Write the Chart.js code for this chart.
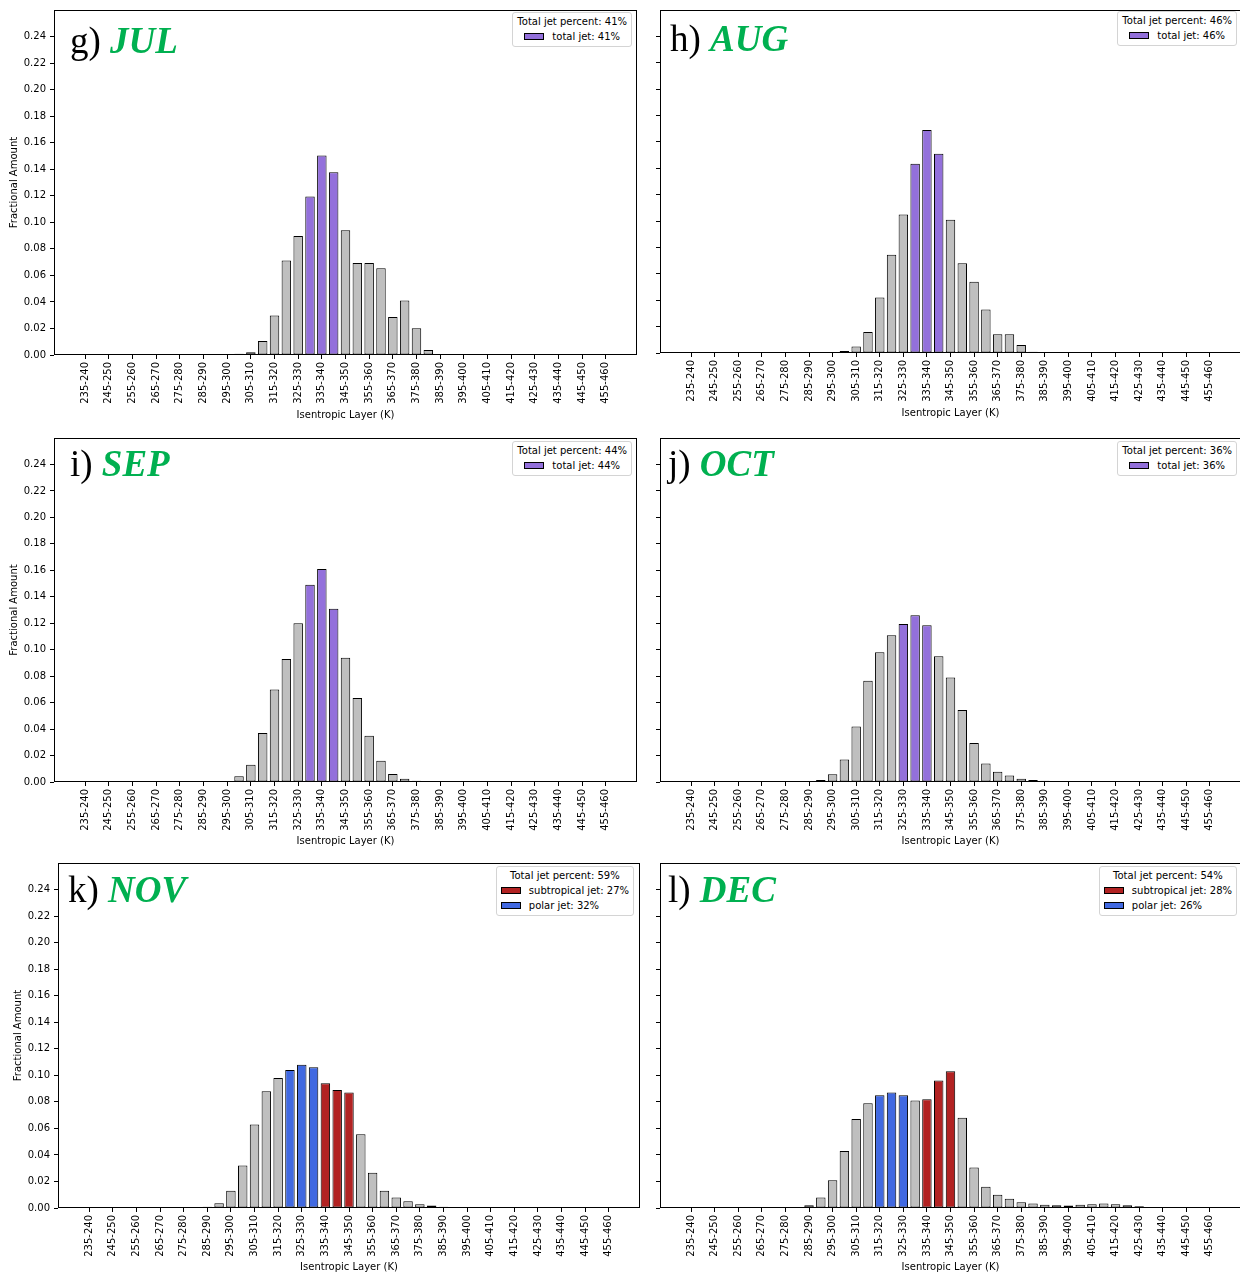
<!DOCTYPE html>
<html>
<head>
<meta charset="utf-8">
<title>Isentropic layer distribution, JUL - DEC</title>
<script src="https://cdn.jsdelivr.net/npm/chart.js@4.4.1/dist/chart.umd.min.js"></script>
<style>
html, body { margin: 0; padding: 0; background: #fff; width: 1240px; height: 1276px; overflow: hidden; }
.panel { position: absolute; }
.panel canvas { position: absolute; left: 0; top: 0; }
.tag { position: absolute; font-family: "Liberation Serif", "Times New Roman", serif; font-size: 37px; line-height: 37px; white-space: nowrap; color: #000; }
.tag b { color: #00b050; font-style: italic; font-weight: bold; }
.legend { position: absolute; background: #fff; border: 1px solid #d4d4d4; border-radius: 3px; font-family: "DejaVu Sans", sans-serif; font-size: 10px; color: #000; padding: 1px 4px 2px 4px; display: flex; flex-direction: column; align-items: center; }
.legend .ttl { line-height: 15px; white-space: nowrap; }
.legend .rows { display: flex; flex-direction: column; align-items: flex-start; }
.legend .row { line-height: 15px; white-space: nowrap; display: flex; align-items: center; }
.legend .sw { width: 20px; height: 7px; border: 1px solid #000; box-sizing: border-box; margin-right: 8px; }
</style>
</head>
<body>

<div class="panel" id="p-jul" style="left:0px;top:0px"><canvas id="jul" width="640" height="425"></canvas></div>
<div class="panel" id="p-aug" style="left:620px;top:0px"><canvas id="aug" width="622" height="425"></canvas></div>
<div class="panel" id="p-sep" style="left:0px;top:428px"><canvas id="sep" width="640" height="425"></canvas></div>
<div class="panel" id="p-oct" style="left:620px;top:428px"><canvas id="oct" width="622" height="425"></canvas></div>
<div class="panel" id="p-nov" style="left:0px;top:853px"><canvas id="nov" width="642" height="423"></canvas></div>
<div class="panel" id="p-dec" style="left:620px;top:853px"><canvas id="dec" width="622" height="423"></canvas></div>

<div class="tag" style="left:70px;top:22px">g) <b>JUL</b></div>
<div class="tag" style="left:670px;top:20px">h) <b>AUG</b></div>
<div class="tag" style="left:70px;top:445px">i) <b>SEP</b></div>
<div class="tag" style="left:668px;top:445px">j) <b>OCT</b></div>
<div class="tag" style="left:68px;top:871px">k) <b>NOV</b></div>
<div class="tag" style="left:668px;top:871px">l) <b>DEC</b></div>

<div class="legend" id="lg-jul" style="right:608px;top:12px"></div>
<div class="legend" id="lg-aug" style="right:3px;top:11px"></div>
<div class="legend" id="lg-sep" style="right:608px;top:441px"></div>
<div class="legend" id="lg-oct" style="right:3px;top:441px"></div>
<div class="legend" id="lg-nov" style="right:606px;top:866px"></div>
<div class="legend" id="lg-dec" style="right:3px;top:866px"></div>

<script>
// isentropic layers (K), 5 K bins
var layers = ['235-240','240-245','245-250','250-255','255-260','260-265','265-270','270-275','275-280','280-285',
              '285-290','290-295','295-300','300-305','305-310','310-315','315-320','320-325','325-330','330-335',
              '335-340','340-345','345-350','350-355','355-360','360-365','365-370','370-375','375-380','380-385',
              '385-390','390-395','395-400','400-405','405-410','410-415','415-420','420-425','425-430','430-435',
              '435-440','440-445','445-450','450-455','455-460'];

var yTicks = [0, 0.02, 0.04, 0.06, 0.08, 0.10, 0.12, 0.14, 0.16, 0.18, 0.20, 0.22, 0.24];

// fractional amount per layer
var jul = [0, 0, 0, 0, 0, 0, 0,
           0.0001, 0.0002, 0.0002, 0.0002, 0.0003, 0.0005,
           0.001, 0.002,
           0.0105, 0.0297, 0.0713, 0.0897, 0.1194, 0.1503, 0.1378, 0.094,
           0.0693, 0.0693, 0.0653, 0.0287, 0.0411, 0.0202, 0.0037, 0.0007, 0.0002, 0.0001,
           0, 0, 0, 0, 0, 0, 0, 0, 0, 0, 0, 0];
var aug = [0, 0, 0, 0, 0, 0, 0, 0, 0, 0, 0, 0,
           0.0003, 0.0015, 0.005, 0.016, 0.042, 0.0745, 0.105, 0.1435, 0.169, 0.151, 0.101,
           0.068, 0.054, 0.033, 0.0143, 0.0143, 0.006, 0.001, 0.0002,
           0, 0, 0, 0, 0, 0, 0, 0, 0, 0, 0, 0, 0, 0];
var sep = [0.0002, 0.0002, 0.0002, 0.0003, 0.0003, 0.0003, 0.0004, 0.0004, 0.0005, 0.0005, 0.0006, 0.0007, 0.0008,
           0.0043, 0.013, 0.037, 0.070, 0.093, 0.120, 0.149, 0.161, 0.131, 0.094,
           0.0635, 0.035, 0.016, 0.006, 0.0025, 0.001, 0.0005, 0.0004, 0.0003, 0.0003,
           0.0003, 0.0003, 0.0002, 0.0002, 0.0002, 0.0002, 0.0002, 0.0002, 0.0002, 0.0002, 0.0002, 0.0002];
var oct = [0.0001, 0.0001, 0.0001, 0.0001, 0.0001, 0.0002, 0.0002, 0.0002, 0.0002, 0.0002, 0.0003,
           0.0015, 0.0058, 0.017, 0.042, 0.0765, 0.098, 0.111, 0.1195, 0.126, 0.1185, 0.095, 0.079,
           0.0545, 0.0295, 0.014, 0.0078, 0.005, 0.0025, 0.0015, 0.001, 0.0008, 0.0005, 0.0003,
           0.0002, 0.0002, 0.0002, 0.0002, 0.0002, 0.0001, 0.0001, 0.0001, 0.0001, 0.0001, 0.0001];
var nov = [0.0003, 0.0003, 0.0003, 0.0004, 0.0004, 0.0004, 0.0005, 0.0005, 0.0005, 0.0006,
           0.001, 0.0035, 0.013, 0.032, 0.063, 0.088, 0.098, 0.104, 0.108, 0.106, 0.094, 0.089, 0.087,
           0.0555, 0.0265, 0.013, 0.008, 0.005, 0.0028, 0.0018, 0.001, 0.0006, 0.0004,
           0.0004, 0.0003, 0.0003, 0.0003, 0.0003, 0.0003, 0.0003, 0.0003, 0.0003, 0.0003, 0.0002, 0.0002];
var dec = [0.0001, 0.0001, 0.0001, 0.0002, 0.0002, 0.0002, 0.0003, 0.0003, 0.0004,
           0.0005, 0.002, 0.008, 0.021, 0.043, 0.067, 0.079, 0.085, 0.087, 0.085, 0.081, 0.082, 0.096, 0.103,
           0.068, 0.0305, 0.016, 0.010, 0.007, 0.0043, 0.0033, 0.0025, 0.002, 0.0018, 0.0025,
           0.0028, 0.0033, 0.0028, 0.002, 0.0013, 0.0008, 0.0005, 0.0002, 0.0002, 0.0002, 0.0002];

// layers flagged as jet
var julTotalJet = ['330-335', '335-340', '340-345'];
var augTotalJet = ['330-335', '335-340', '340-345'];
var sepTotalJet = ['330-335', '335-340', '340-345'];
var octTotalJet = ['325-330', '330-335', '335-340'];
var novSubtropicalJet = ['335-340', '340-345', '345-350'];
var novPolarJet = ['320-325', '325-330', '330-335'];
var decSubtropicalJet = ['335-340', '340-345', '345-350'];
var decPolarJet = ['315-320', '320-325', '325-330'];

// legend texts
var julLegend = ['Total jet percent: 41%', 'total jet: 41%'];
var augLegend = ['Total jet percent: 46%', 'total jet: 46%'];
var sepLegend = ['Total jet percent: 44%', 'total jet: 44%'];
var octLegend = ['Total jet percent: 36%', 'total jet: 36%'];
var novLegend = ['Total jet percent: 59%', 'subtropical jet: 27%', 'polar jet: 32%'];
var decLegend = ['Total jet percent: 54%', 'subtropical jet: 28%', 'polar jet: 26%'];

var gray = '#bfbfbf';
var purple = '#9370db';
var red = '#b22222';
var blue = '#4169e1';

Chart.defaults.font.family = '"DejaVu Sans", sans-serif';
Chart.defaults.font.size = 10;
Chart.defaults.color = '#000';

var frame = {
    id: 'frame',
    afterDatasetsDraw: function (chart) {
        var a = chart.chartArea;
        var c = chart.ctx;
        c.save();
        c.strokeStyle = '#000';
        c.lineWidth = 1;
        c.strokeRect(Math.round(a.left) + 0.5, Math.round(a.top) + 0.5,
                     Math.round(a.right - a.left) - 1, Math.round(a.bottom - a.top) - 1);
        c.restore();
    }
};

function barColors(jetA, colA, jetB, colB)
{
    return layers.map(function (l) {
        if (jetA.indexOf(l) >= 0) return colA;
        if (jetB && jetB.indexOf(l) >= 0) return colB;
        return gray;
    });
}

function legendBox(id, texts, swatches)
{
    var el = document.getElementById(id);
    var html = '<div class="ttl">' + texts[0] + '</div><div class="rows">';
    for (var i = 1; i < texts.length; i++) {
        html += '<div class="row"><span class="sw" style="background:' + swatches[i - 1] + '"></span>' + texts[i] + '</div>';
    }
    el.innerHTML = html + '</div>';
}

function drawPanel(id, values, colors, p)
{
    var points = [];
    for (var i = 0; i < values.length; i++) {
        points.push({ x: i, y: values[i] });
    }

    new Chart(document.getElementById(id), {
        type: 'bar',
        data: {
            datasets: [{
                data: points,
                backgroundColor: colors,
                borderColor: '#000',
                borderWidth: 1,
                borderSkipped: false,
                barPercentage: 0.8,
                categoryPercentage: 1
            }]
        },
        options: {
            responsive: false,
            animation: false,
            devicePixelRatio: 1,
            layout: { padding: { left: 0, top: p.padT, right: p.padR, bottom: 0 } },
            plugins: { legend: { display: false }, tooltip: { enabled: false } },
            scales: {
                x: {
                    type: 'linear',
                    offset: false,
                    min: -2.64,
                    max: 46.64,
                    afterBuildTicks: function (s) {
                        var t = [];
                        for (var k = 0; k < layers.length; k += 2) t.push({ value: k });
                        s.ticks = t;
                    },
                    afterFit: function (s) { s.height = p.xh; },
                    grid: { offset: false, drawOnChartArea: false, tickLength: 4, tickColor: '#000', tickWidth: 1 },
                    border: { display: false },
                    ticks: {
                        autoSkip: false,
                        minRotation: 90,
                        maxRotation: 90,
                        padding: 3,
                        color: '#000',
                        callback: function (v) { return layers[v]; }
                    },
                    title: { display: true, text: 'Isentropic Layer (K)', color: '#000', padding: { top: 0, bottom: p.titleB } }
                },
                y: {
                    min: 0,
                    max: 0.26,
                    afterBuildTicks: function (s) {
                        s.ticks = yTicks.map(function (v) { return { value: v }; });
                    },
                    afterFit: function (s) { s.width = p.yw; },
                    grid: { drawOnChartArea: false, tickLength: 4, tickColor: '#000', tickWidth: 1 },
                    border: { display: false },
                    ticks: {
                        padding: 4,
                        color: '#000',
                        callback: function (v) { return p.showY ? v.toFixed(2) : ''; }
                    },
                    title: { display: p.showY, text: 'Fractional Amount', color: '#000', padding: { top: p.yPad, bottom: 0 } }
                }
            }
        },
        plugins: [frame]
    });
}

drawPanel('jul', jul, barColors(julTotalJet, purple), { padT: 7, padR: 3, yw: 54, xh: 70, titleB: 4, showY: true, yPad: 8 });
drawPanel('aug', aug, barColors(augTotalJet, purple), { padT: 6, padR: 1, yw: 40, xh: 72, titleB: 6, showY: false, yPad: 0 });
drawPanel('sep', sep, barColors(sepTotalJet, purple), { padT: 7, padR: 3, yw: 54, xh: 71, titleB: 6, showY: true, yPad: 8 });
drawPanel('oct', oct, barColors(octTotalJet, purple), { padT: 7, padR: 1, yw: 40, xh: 71, titleB: 6, showY: false, yPad: 0 });
drawPanel('nov', nov, barColors(novSubtropicalJet, red, novPolarJet, blue), { padT: 8, padR: 2, yw: 58, xh: 68, titleB: 3, showY: true, yPad: 12 });
drawPanel('dec', dec, barColors(decSubtropicalJet, red, decPolarJet, blue), { padT: 8, padR: 1, yw: 40, xh: 68, titleB: 3, showY: false, yPad: 0 });

legendBox('lg-jul', julLegend, [purple]);
legendBox('lg-aug', augLegend, [purple]);
legendBox('lg-sep', sepLegend, [purple]);
legendBox('lg-oct', octLegend, [purple]);
legendBox('lg-nov', novLegend, [red, blue]);
legendBox('lg-dec', decLegend, [red, blue]);
</script>
</body>
</html>
